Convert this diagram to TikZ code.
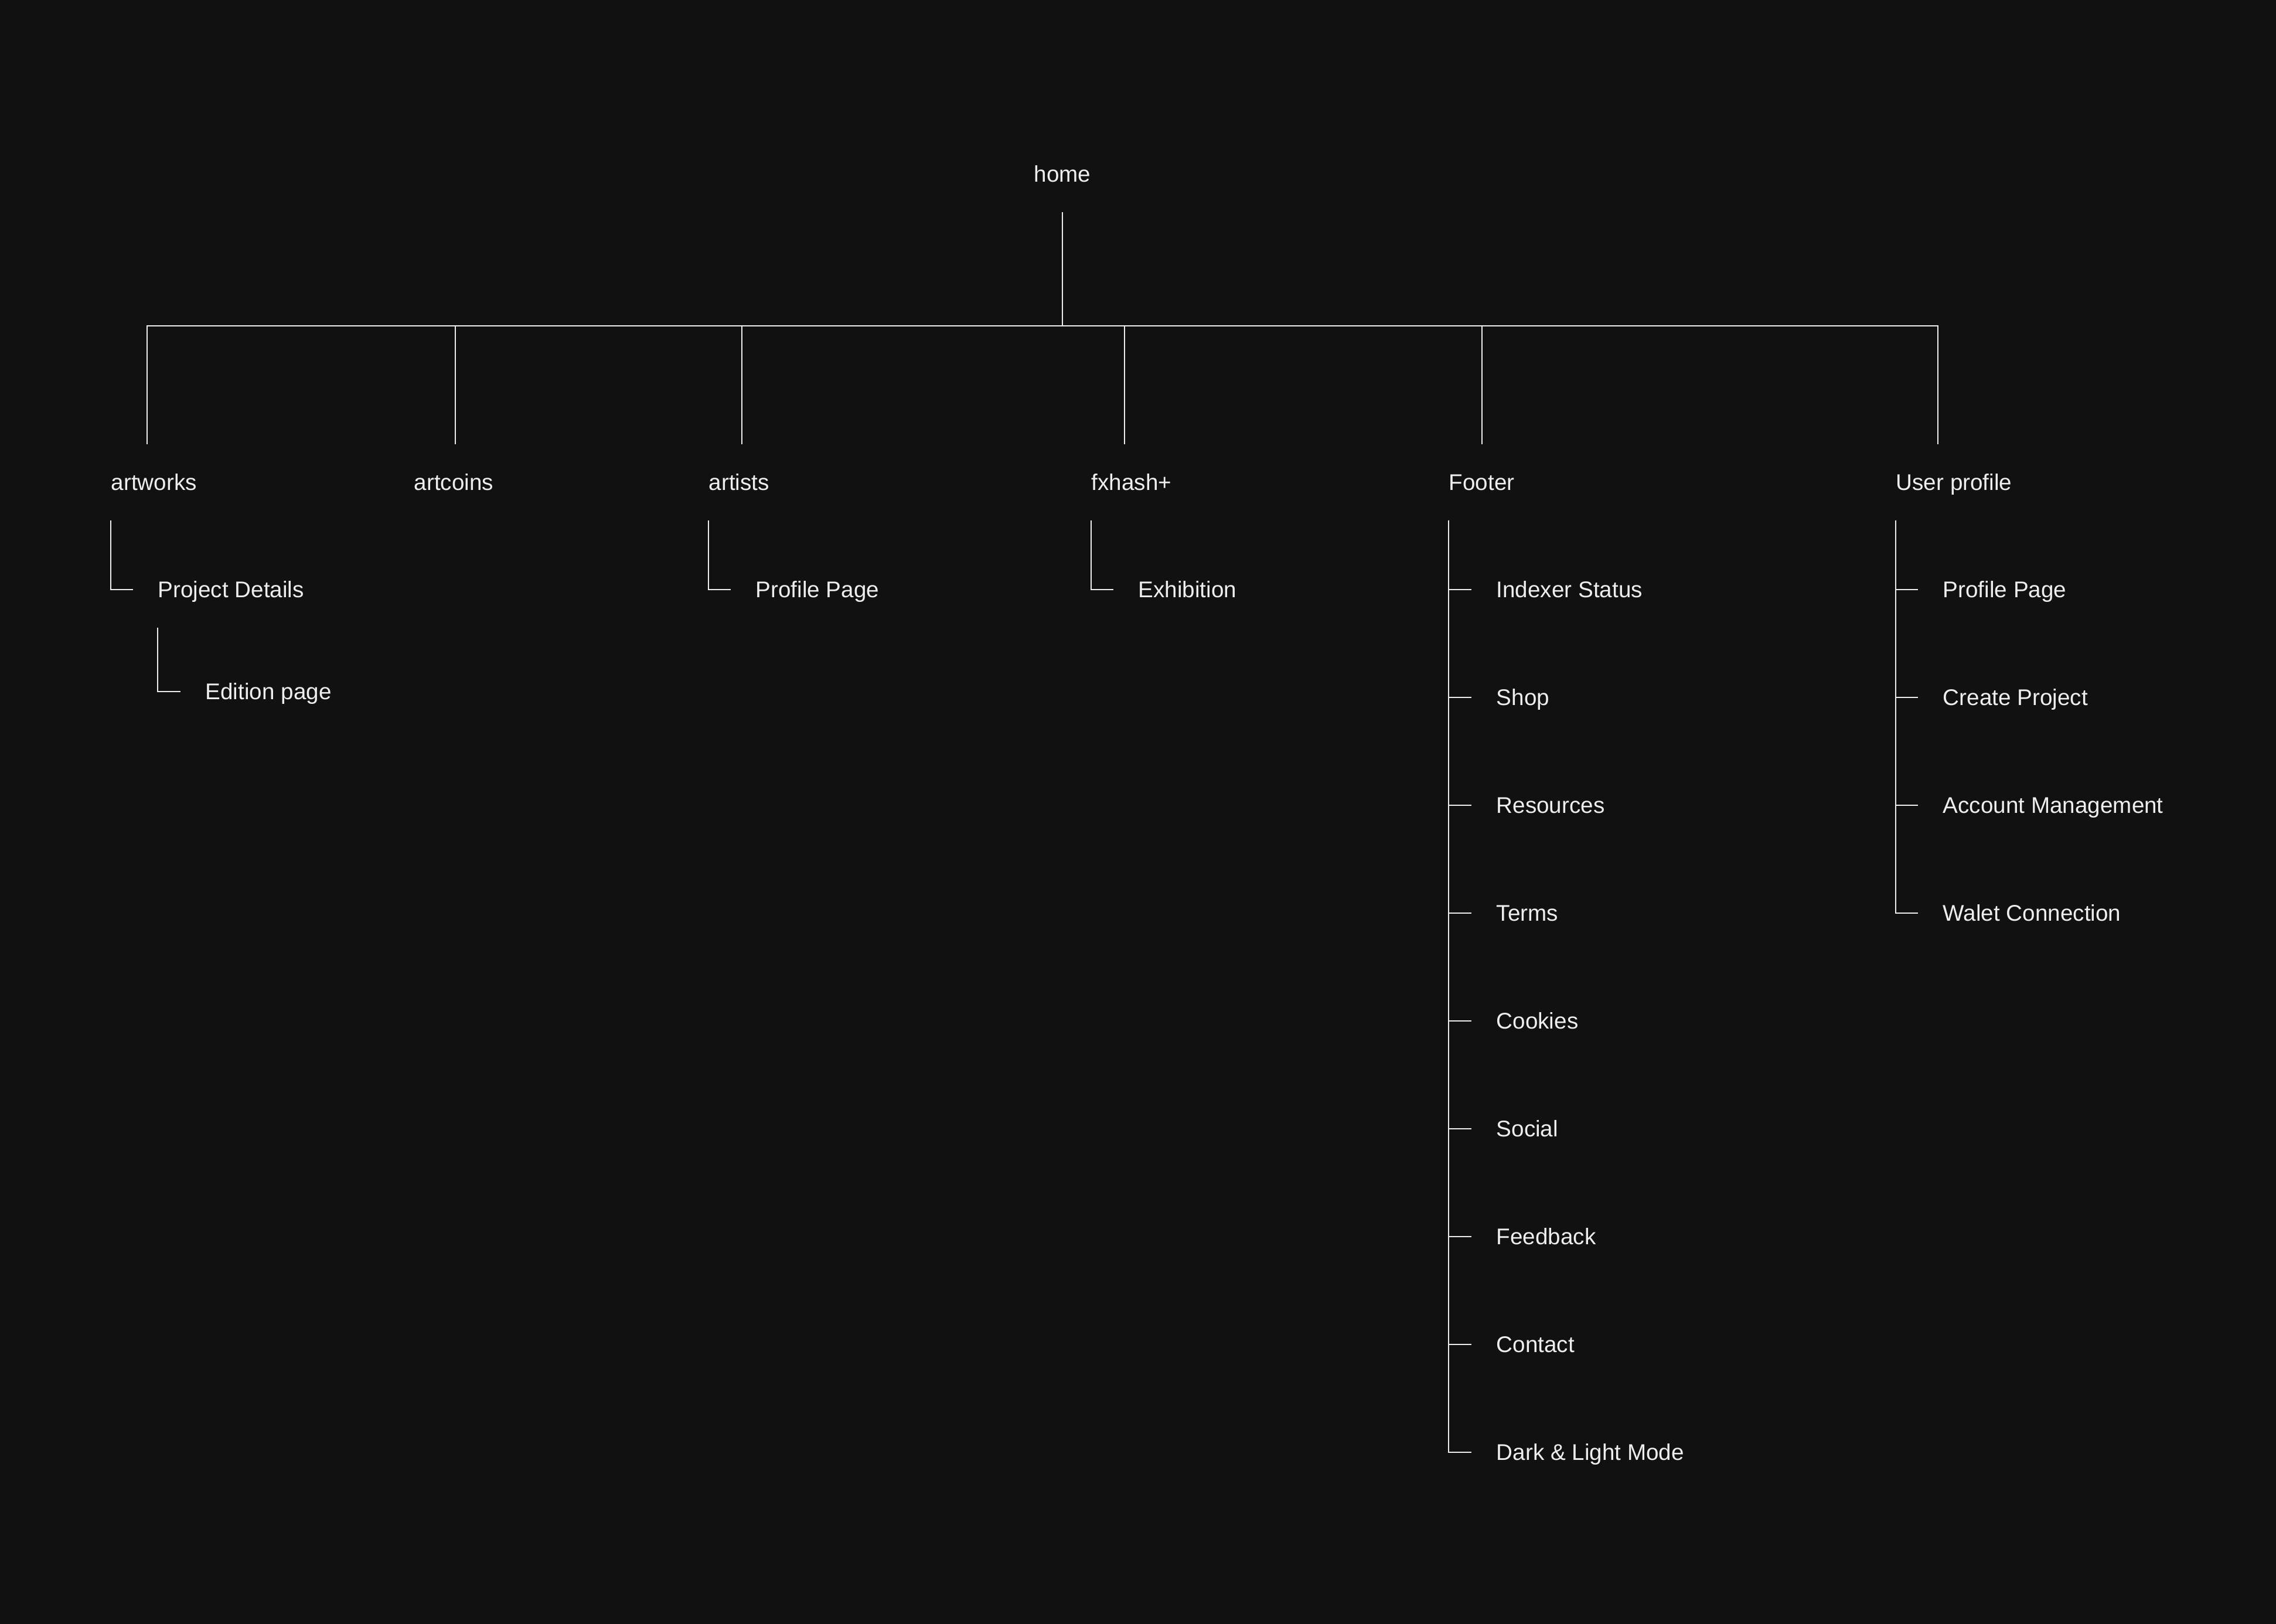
\documentclass[tikz,border=0pt]{standalone}
\usepackage{fontspec}
\setmainfont{Liberation Sans}
\usepackage{xcolor}
\usepackage{tikz}
\definecolor{SMBack}{HTML}{111111}
\definecolor{SMInk}{HTML}{EEEEEE}

\begin{document}
\begin{tikzpicture}[x=1cm,y=1cm,
  page/.style={text=SMInk,font=\fontsize{11}{13}\selectfont,inner xsep=0pt,inner ysep=0.5cm,
    text height=0.28cm,text depth=0pt,anchor=base west},
  wire/.style={draw=SMInk,line width=0.6pt},
  twig/.style={wire,shorten >=0.42cm}]
\path[use as bounding box] (0,0) rectangle (38.84,27.70);
\fill[SMBack] (-0.2,-0.2) rectangle (39.04,27.90);
\node[page] (home) at (17.64,24.59) {home};
\path (home.south) ++(0,-1.94) coordinate (bus);
\node[page] (artworks) at (1.89,19.33) {artworks};
\node[page] (artcoins) at (7.06,19.33) {artcoins};
\node[page] (artists) at (12.09,19.33) {artists};
\node[page] (fxhash) at (18.62,19.33) {fxhash+};
\node[page] (footer) at (24.72,19.33) {Footer};
\node[page] (user) at (32.35,19.33) {User profile};
\node[page] (details) at (2.69,17.50) {Project Details};
\node[page] (edition) at (3.50,15.76) {Edition page};
\node[page] (profile) at (12.89,17.50) {Profile Page};
\node[page] (exhibit) at (19.42,17.50) {Exhibition};
\foreach \t [count=\i from 0] in {Indexer Status,Shop,Resources,Terms,Cookies,Social,Feedback,Contact,Dark \& Light Mode}
  \node[page] (foot\i) at (25.53,{17.50-1.84*\i}) {\t};
\foreach \t [count=\i from 0] in {Profile Page,Create Project,Account Management,Walet Connection}
  \node[page] (acct\i) at (33.15,{17.50-1.84*\i}) {\t};
\draw[wire] (home.south) -- (bus);
\foreach \n/\dx in {artworks/0.62,artcoins/0.71,artists/0.57,fxhash/0.57,footer/0.57,user/0.72}
  \draw[wire] ([xshift=\dx cm]\n.north west) |- (bus);
\draw[twig] (artworks.south west) |- (details.west);
\draw[twig] (details.south west) |- (edition.west);
\draw[twig] (artists.south west) |- (profile.west);
\draw[twig] (fxhash.south west) |- (exhibit.west);
\foreach \i in {0,...,8}
  \draw[twig] (footer.south west) |- (foot\i.west);
\foreach \i in {0,...,3}
  \draw[twig] (user.south west) |- (acct\i.west);
\end{tikzpicture}
\end{document}
